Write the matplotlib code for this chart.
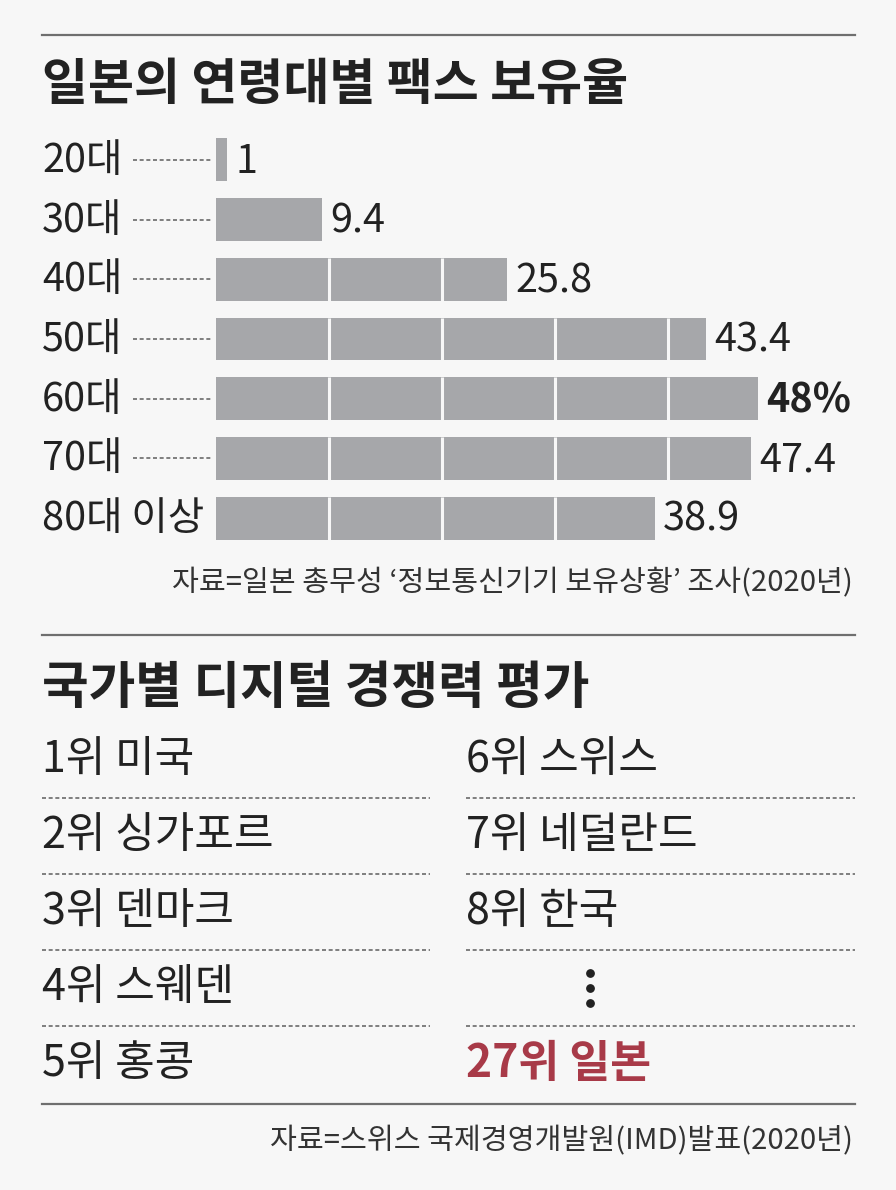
import matplotlib.pyplot as plt
import numpy as np

plt.rcParams['font.family'] = ['Noto Sans CJK KR', 'DejaVu Sans']

# data
ages = ['20대', '30대', '40대', '50대', '60대', '70대', '80대 이상']
fax_share = [1, 9.4, 25.8, 43.4, 48, 47.4, 38.9]
value_labels = ['1', '9.4', '25.8', '43.4', '48%', '47.4', '38.9']
highlight = '60대'

left_ranks = ['1위 미국', '2위 싱가포르', '3위 덴마크', '4위 스웨덴', '5위 홍콩']
right_ranks = ['6위 스위스', '7위 네덜란드', '8위 한국', '', '27위 일본']

title1 = '일본의 연령대별 팩스 보유율'
source1 = '자료=일본 총무성 ‘정보통신기기 보유상황’ 조사(2020년)'
title2 = '국가별 디지털 경쟁력 평가'
source2 = '자료=스위스 국제경영개발원(IMD)발표(2020년)'

bg = '#f7f7f7'
bar_c = '#a6a7aa'
txt_c = '#222222'
red_c = '#a83a48'
line_c = '#6f6f6f'
dot_c = '#6a6a6a'

W, H = 896, 1190
fig = plt.figure(figsize=(W / 100, H / 100), dpi=100, facecolor=bg)

# overlay axes in pixel coords for text and rules
ov = fig.add_axes([0, 0, 1, 1])
ov.set_xlim(0, W)
ov.set_ylim(H, 0)
ov.axis('off')
ov.set_facecolor('none')

L, R = 42, 855
dotted = (0, (2.4, 1.6))

# top rule + title
ov.plot([L, R], [35, 35], color=line_c, lw=1.6)
ov.text(L, 86, title1, fontsize=36, fontweight='bold', color=txt_c, va='center', ha='left')

# bar chart axes: bars start at x=216, 48 units ~ 542 px
x0 = 216
px_per_unit = (758 - 216) / 48
top_px, bot_px = 130, 548
ax = fig.add_axes([x0 / W, 1 - bot_px / H, (R - x0) / W, (bot_px - top_px) / H])
ax.set_facecolor('none')
ax.set_xlim(0, (R - x0) / px_per_unit)
n = len(ages)
ax.set_ylim(n - 0.5, -0.5)
ax.axis('off')

ypos = np.arange(n)
bh = 0.72
ax.barh(ypos, fax_share, height=bh, color=bar_c, edgecolor='none')

# white dividers every 10 units
for i, v in enumerate(fax_share):
    for g in range(10, int(v) + 1, 10):
        if g < v:
            ax.vlines(g, i - bh / 2, i + bh / 2, color=bg, lw=2.2)

for i, (v, lab) in enumerate(zip(fax_share, value_labels)):
    bold = ages[i] == highlight
    ax.text(v + 0.7, i + 0.03, lab, fontsize=28.5,
            fontweight='bold' if bold else 'normal', color=txt_c,
            va='center', ha='left')

# category labels and dotted leaders (pixel coords)
row_px = [top_px + (bot_px - top_px) * (i + 0.5) / n for i in range(n)]
for lab, yp in zip(ages, row_px):
    ov.text(L, yp + 1, lab, fontsize=28.5, color=txt_c, va='center', ha='left')
    if ' ' not in lab:
        ov.plot([133, 212], [yp, yp], color=dot_c, lw=1.2, ls=dotted)

ov.text(853, 583, source1, fontsize=21, color='#333333', va='center', ha='right')

# second section
ov.plot([L, R], [635, 635], color=line_c, lw=1.6)
ov.text(L, 688, title2, fontsize=36.5, fontweight='bold', color=txt_c, va='center', ha='left')

rows_y = [760, 836, 912, 988, 1064]
for j, (lt, rt) in enumerate(zip(left_ranks, right_ranks)):
    y = rows_y[j]
    ov.text(L, y, lt, fontsize=31, color=txt_c, va='center', ha='left')
    if rt == '':
        ov.scatter([590, 590, 590], [y - 15, y, y + 15], s=28, color=txt_c, zorder=3)
    elif j == len(right_ranks) - 1:
        ov.text(466, y, rt, fontsize=32, fontweight='bold', color=red_c, va='center', ha='left')
    else:
        ov.text(466, y, rt, fontsize=31, color=txt_c, va='center', ha='left')
    if j < len(left_ranks) - 1:
        yl = y + 38
        ov.plot([L, 430], [yl, yl], color=dot_c, lw=1.2, ls=dotted)
        ov.plot([466, R], [yl, yl], color=dot_c, lw=1.2, ls=dotted)

ov.plot([L, R], [1104, 1104], color=line_c, lw=1.6)
ov.text(853, 1141, source2, fontsize=21, color='#333333', va='center', ha='right')

fig.savefig('out.png', dpi=100, facecolor=bg)
